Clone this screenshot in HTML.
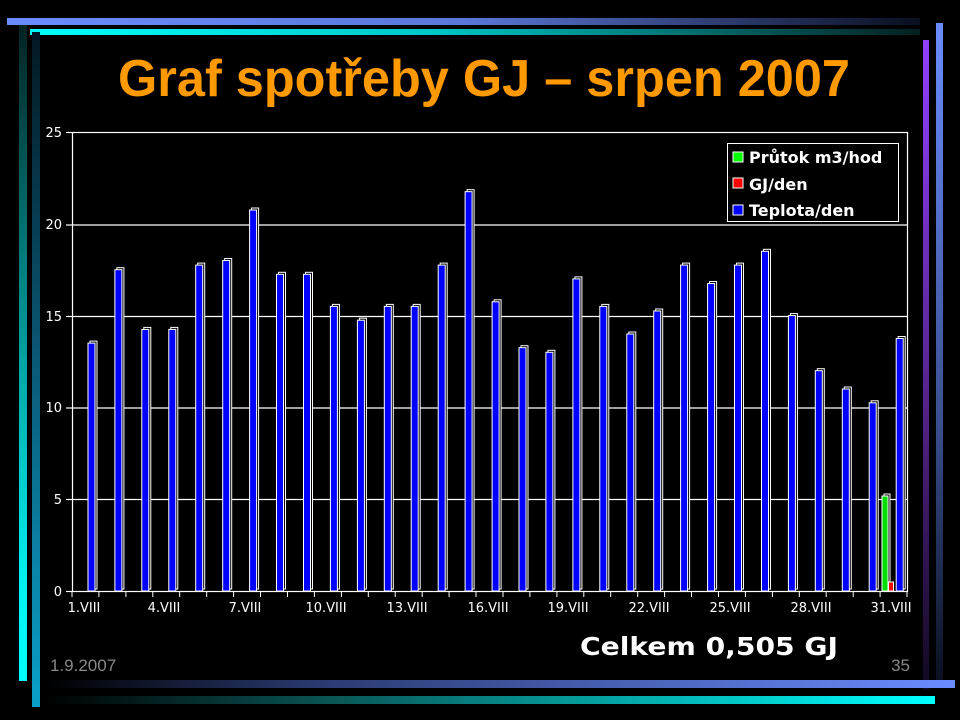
<!DOCTYPE html>
<html><head><meta charset="utf-8"><style>
html,body{margin:0;padding:0;background:#000;width:960px;height:720px;overflow:hidden}
svg{display:block}
</style></head><body>
<svg width="960" height="720" viewBox="0 0 960 720" xmlns="http://www.w3.org/2000/svg">
<defs>
<linearGradient id="gb" x1="0" x2="1"><stop offset="0" stop-color="#6a8cff"/><stop offset="0.5" stop-color="#5a78d8"/><stop offset="1" stop-color="#0a0f20"/></linearGradient>
<linearGradient id="gc" x1="0" x2="1"><stop offset="0" stop-color="#00ffff"/><stop offset="0.45" stop-color="#00c8c8"/><stop offset="1" stop-color="#042020"/></linearGradient>
<linearGradient id="gbb" x1="0" x2="1"><stop offset="0" stop-color="#000"/><stop offset="0.3" stop-color="#2a3a70"/><stop offset="1" stop-color="#6a8cff"/></linearGradient>
<linearGradient id="gcb" x1="0" x2="1"><stop offset="0" stop-color="#000"/><stop offset="0.3" stop-color="#0a5050"/><stop offset="1" stop-color="#00ffff"/></linearGradient>
<linearGradient id="glc" x1="0" y1="0" x2="0" y2="1"><stop offset="0" stop-color="#032222"/><stop offset="0.5" stop-color="#00a0a0"/><stop offset="0.85" stop-color="#00f0f0"/><stop offset="1" stop-color="#00ffff"/></linearGradient>
<linearGradient id="gl" x1="0" y1="0" x2="0" y2="1"><stop offset="0" stop-color="#031822"/><stop offset="0.5" stop-color="#0a5a78"/><stop offset="1" stop-color="#0aa0c8"/></linearGradient>
<linearGradient id="gp" x1="0" y1="0" x2="0" y2="1"><stop offset="0" stop-color="#9040ff"/><stop offset="0.6" stop-color="#502080"/><stop offset="1" stop-color="#100820"/></linearGradient>
<linearGradient id="gr" x1="0" y1="0" x2="0" y2="1"><stop offset="0" stop-color="#6a8cff"/><stop offset="0.6" stop-color="#3a5090"/><stop offset="1" stop-color="#0a1020"/></linearGradient>
<g id="bars">
<rect x="88" y="343.1" width="7" height="247.9"/>
<rect x="114.9" y="269.7" width="7" height="321.3"/>
<rect x="141.8" y="329.4" width="7" height="261.6"/>
<rect x="168.8" y="329.4" width="7" height="261.6"/>
<rect x="195.7" y="265.1" width="7" height="325.9"/>
<rect x="222.7" y="260.5" width="7" height="330.5"/>
<rect x="249.6" y="210" width="7" height="381"/>
<rect x="276.5" y="274.3" width="7" height="316.7"/>
<rect x="303.5" y="274.3" width="7" height="316.7"/>
<rect x="330.4" y="306.4" width="7" height="284.6"/>
<rect x="357.4" y="320.2" width="7" height="270.8"/>
<rect x="384.3" y="306.4" width="7" height="284.6"/>
<rect x="411.2" y="306.4" width="7" height="284.6"/>
<rect x="438.2" y="265.1" width="7" height="325.9"/>
<rect x="465.1" y="191.7" width="7" height="399.3"/>
<rect x="492.1" y="301.8" width="7" height="289.2"/>
<rect x="519" y="347.7" width="7" height="243.3"/>
<rect x="545.9" y="352.3" width="7" height="238.7"/>
<rect x="572.9" y="278.9" width="7" height="312.1"/>
<rect x="599.8" y="306.4" width="7" height="284.6"/>
<rect x="626.8" y="334" width="7" height="257"/>
<rect x="653.7" y="311" width="7" height="280"/>
<rect x="680.6" y="265.1" width="7" height="325.9"/>
<rect x="707.6" y="283.5" width="7" height="307.5"/>
<rect x="734.5" y="265.1" width="7" height="325.9"/>
<rect x="761.5" y="251.3" width="7" height="339.7"/>
<rect x="788.4" y="315.6" width="7" height="275.4"/>
<rect x="815.3" y="370.7" width="7" height="220.3"/>
<rect x="842.3" y="389" width="7" height="202"/>
<rect x="869.2" y="402.8" width="7" height="188.2"/>
<rect x="896.2" y="338.5" width="7" height="252.5"/>
</g>
</defs>

<!-- decorative bars -->
<rect x="7" y="18" width="913" height="7" fill="url(#gb)"/>
<rect x="30" y="29" width="890" height="6" fill="url(#gc)"/>
<rect x="19" y="25" width="8" height="656" fill="url(#glc)"/>
<rect x="32" y="32" width="8" height="675" fill="url(#gl)"/>
<rect x="923" y="40" width="6" height="650" fill="url(#gp)"/>
<rect x="936" y="23" width="7" height="660" fill="url(#gr)"/>
<rect x="45" y="680" width="910" height="8" fill="url(#gbb)"/>
<rect x="45" y="696" width="890" height="8" fill="url(#gcb)"/>

<!-- title -->
<text x="484" y="96" text-anchor="middle" font-family="Liberation Sans, DejaVu Sans, sans-serif" font-weight="bold" font-size="52" fill="#ff9900" textLength="732" lengthAdjust="spacingAndGlyphs">Graf spotřeby GJ – srpen 2007</text>

<!-- plot frame & grid -->
<g stroke="#fff" stroke-width="1.2" fill="none">
<rect x="72.5" y="132.5" width="835" height="459"/>
<line x1="72" y1="225" x2="907" y2="225"/>
<line x1="72" y1="316.5" x2="907" y2="316.5"/>
<line x1="72" y1="408" x2="907" y2="408"/>
<line x1="72" y1="499.5" x2="907" y2="499.5"/>
<line x1="66" y1="132.5" x2="72" y2="132.5"/>
<line x1="66" y1="225" x2="72" y2="225"/>
<line x1="66" y1="316.5" x2="72" y2="316.5"/>
<line x1="66" y1="408" x2="72" y2="408"/>
<line x1="66" y1="499.5" x2="72" y2="499.5"/>
<line x1="66" y1="591.5" x2="72" y2="591.5"/>
</g>
<g stroke="#fff" stroke-width="1">
<line x1="72" y1="591" x2="72" y2="597"/><line x1="98.9" y1="591" x2="98.9" y2="597"/><line x1="125.9" y1="591" x2="125.9" y2="597"/><line x1="152.8" y1="591" x2="152.8" y2="597"/><line x1="179.7" y1="591" x2="179.7" y2="597"/><line x1="206.7" y1="591" x2="206.7" y2="597"/><line x1="233.6" y1="591" x2="233.6" y2="597"/><line x1="260.5" y1="591" x2="260.5" y2="597"/><line x1="287.5" y1="591" x2="287.5" y2="597"/><line x1="314.4" y1="591" x2="314.4" y2="597"/><line x1="341.4" y1="591" x2="341.4" y2="597"/><line x1="368.3" y1="591" x2="368.3" y2="597"/><line x1="395.2" y1="591" x2="395.2" y2="597"/><line x1="422.2" y1="591" x2="422.2" y2="597"/><line x1="449.1" y1="591" x2="449.1" y2="597"/><line x1="476" y1="591" x2="476" y2="597"/><line x1="503" y1="591" x2="503" y2="597"/><line x1="529.9" y1="591" x2="529.9" y2="597"/><line x1="556.9" y1="591" x2="556.9" y2="597"/><line x1="583.8" y1="591" x2="583.8" y2="597"/><line x1="610.7" y1="591" x2="610.7" y2="597"/><line x1="637.7" y1="591" x2="637.7" y2="597"/><line x1="664.6" y1="591" x2="664.6" y2="597"/><line x1="691.5" y1="591" x2="691.5" y2="597"/><line x1="718.5" y1="591" x2="718.5" y2="597"/><line x1="745.4" y1="591" x2="745.4" y2="597"/><line x1="772.4" y1="591" x2="772.4" y2="597"/><line x1="799.3" y1="591" x2="799.3" y2="597"/><line x1="826.2" y1="591" x2="826.2" y2="597"/><line x1="853.2" y1="591" x2="853.2" y2="597"/><line x1="880.1" y1="591" x2="880.1" y2="597"/><line x1="907" y1="591" x2="907" y2="597"/>
</g>

<!-- y labels -->
<g font-family="DejaVu Sans, Liberation Sans, sans-serif" font-size="13" fill="#fff" text-anchor="end">
<text x="62" y="137">25</text><text x="62" y="229">20</text><text x="62" y="321">15</text><text x="62" y="412">10</text><text x="62" y="504">5</text><text x="62" y="596">0</text>
</g>
<!-- x labels -->
<g font-family="DejaVu Sans, Liberation Sans, sans-serif" font-size="13" fill="#fff" text-anchor="middle">
<text x="84" y="612">1.VIII</text><text x="164" y="612">4.VIII</text><text x="245" y="612">7.VIII</text><text x="326" y="612">10.VIII</text><text x="407" y="612">13.VIII</text><text x="488" y="612">16.VIII</text><text x="568" y="612">19.VIII</text><text x="649" y="612">22.VIII</text><text x="730" y="612">25.VIII</text><text x="811" y="612">28.VIII</text><text x="891" y="612">31.VIII</text>
</g>

<!-- bars -->
<use href="#bars" x="2" y="-2" fill="#000" stroke="#fff" stroke-width="1"/>
<use href="#bars" fill="#0000ff" stroke="#fff" stroke-width="1"/>
<rect x="884" y="494" width="6" height="97" fill="#000" stroke="#fff"/>
<rect x="882" y="496" width="6" height="95" fill="#00e000" stroke="#fff"/>
<rect x="888.5" y="582" width="5" height="9" fill="#ff0000" stroke="#fff"/>

<!-- legend -->
<rect x="727.5" y="143.5" width="171" height="78" fill="#000" stroke="#fff"/>
<g font-family="DejaVu Sans, Liberation Sans, sans-serif" font-weight="bold" font-size="16" fill="#fff">
<rect x="733" y="152" width="10" height="10" fill="#00ff00" stroke="#fff"/>
<text x="749" y="163">Průtok m3/hod</text>
<rect x="733" y="178" width="10" height="10" fill="#ff0000" stroke="#fff"/>
<text x="749" y="190">GJ/den</text>
<rect x="733" y="205" width="10" height="10" fill="#0000ff" stroke="#fff"/>
<text x="749" y="216">Teplota/den</text>
</g>

<text x="580" y="655" font-family="DejaVu Sans, Liberation Sans, sans-serif" font-weight="bold" font-size="25" fill="#fff" textLength="258" lengthAdjust="spacingAndGlyphs">Celkem  0,505 GJ</text>
<text x="50" y="671" font-family="Liberation Sans, sans-serif" font-size="17" fill="#888">1.9.2007</text>
<text x="910" y="671" text-anchor="end" font-family="Liberation Sans, sans-serif" font-size="17" fill="#888">35</text>
</svg>
</body></html>
